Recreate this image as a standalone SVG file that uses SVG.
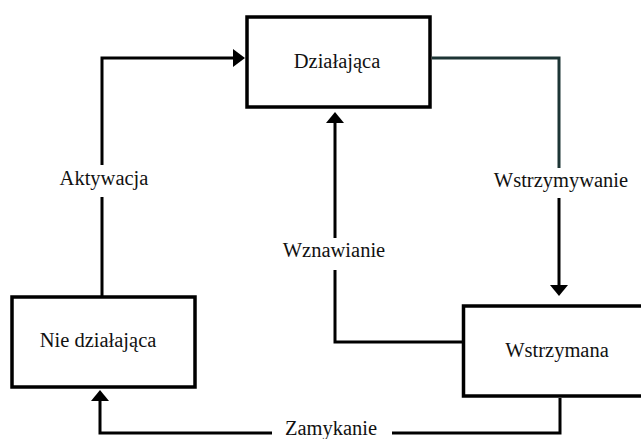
<svg xmlns="http://www.w3.org/2000/svg" width="641" height="439" viewBox="0 0 641 439">
<defs>
<style>
.box{fill:#fff;stroke:#000;stroke-width:3.5}
.lbl{font-family:"Liberation Serif","Tinos","DejaVu Serif",serif;font-size:20.5px;fill:#111;text-anchor:middle}
.ln{fill:none;stroke:#000;stroke-width:3}
.ln2{fill:none;stroke:#1d3535;stroke-width:3}
.ah{fill:#000}
</style>
</defs>
<rect width="641" height="439" fill="#fff"/>
<g id="connectors">
<g id="aktywacja">
<path class="ln" d="M102,296 V197 M102,165 V58 H234"/>
<polygon class="ah" points="245,58 233,49 233,67"/>
<text class="lbl" x="104" y="185">Aktywacja</text>
</g>
<g id="wstrzymywanie">
<path class="ln2" d="M432,58 H559 V168"/>
<path class="ln" d="M559,198 V285"/>
<polygon class="ah" points="559,296 550,285 568,285"/>
<text class="lbl" x="561" y="187">Wstrzymywanie</text>
</g>
<g id="wznawianie">
<path class="ln" d="M462,342 H335 V270 M335,238 V122"/>
<polygon class="ah" points="335,112 326,123 344,123"/>
<text class="lbl" x="334" y="257">Wznawianie</text>
</g>
<g id="zamykanie">
<path class="ln" d="M560,398 V433 H392 M272,433 H100 V399"/>
<polygon class="ah" points="100,390 91,401 109,401"/>
<text class="lbl" x="331" y="435">Zamykanie</text>
</g>
</g>
<g id="node-dzialajaca">
<rect class="box" x="247" y="17" width="183" height="90"/>
<text class="lbl" x="337" y="68">Działająca</text>
</g>
<g id="node-nie-dzialajaca">
<rect class="box" x="12" y="297" width="183" height="90"/>
<text class="lbl" x="98" y="347">Nie działająca</text>
</g>
<g id="node-wstrzymana">
<rect class="box" x="463.5" y="306" width="200" height="90"/>
<text class="lbl" x="557" y="357">Wstrzymana</text>
</g>
</svg>
